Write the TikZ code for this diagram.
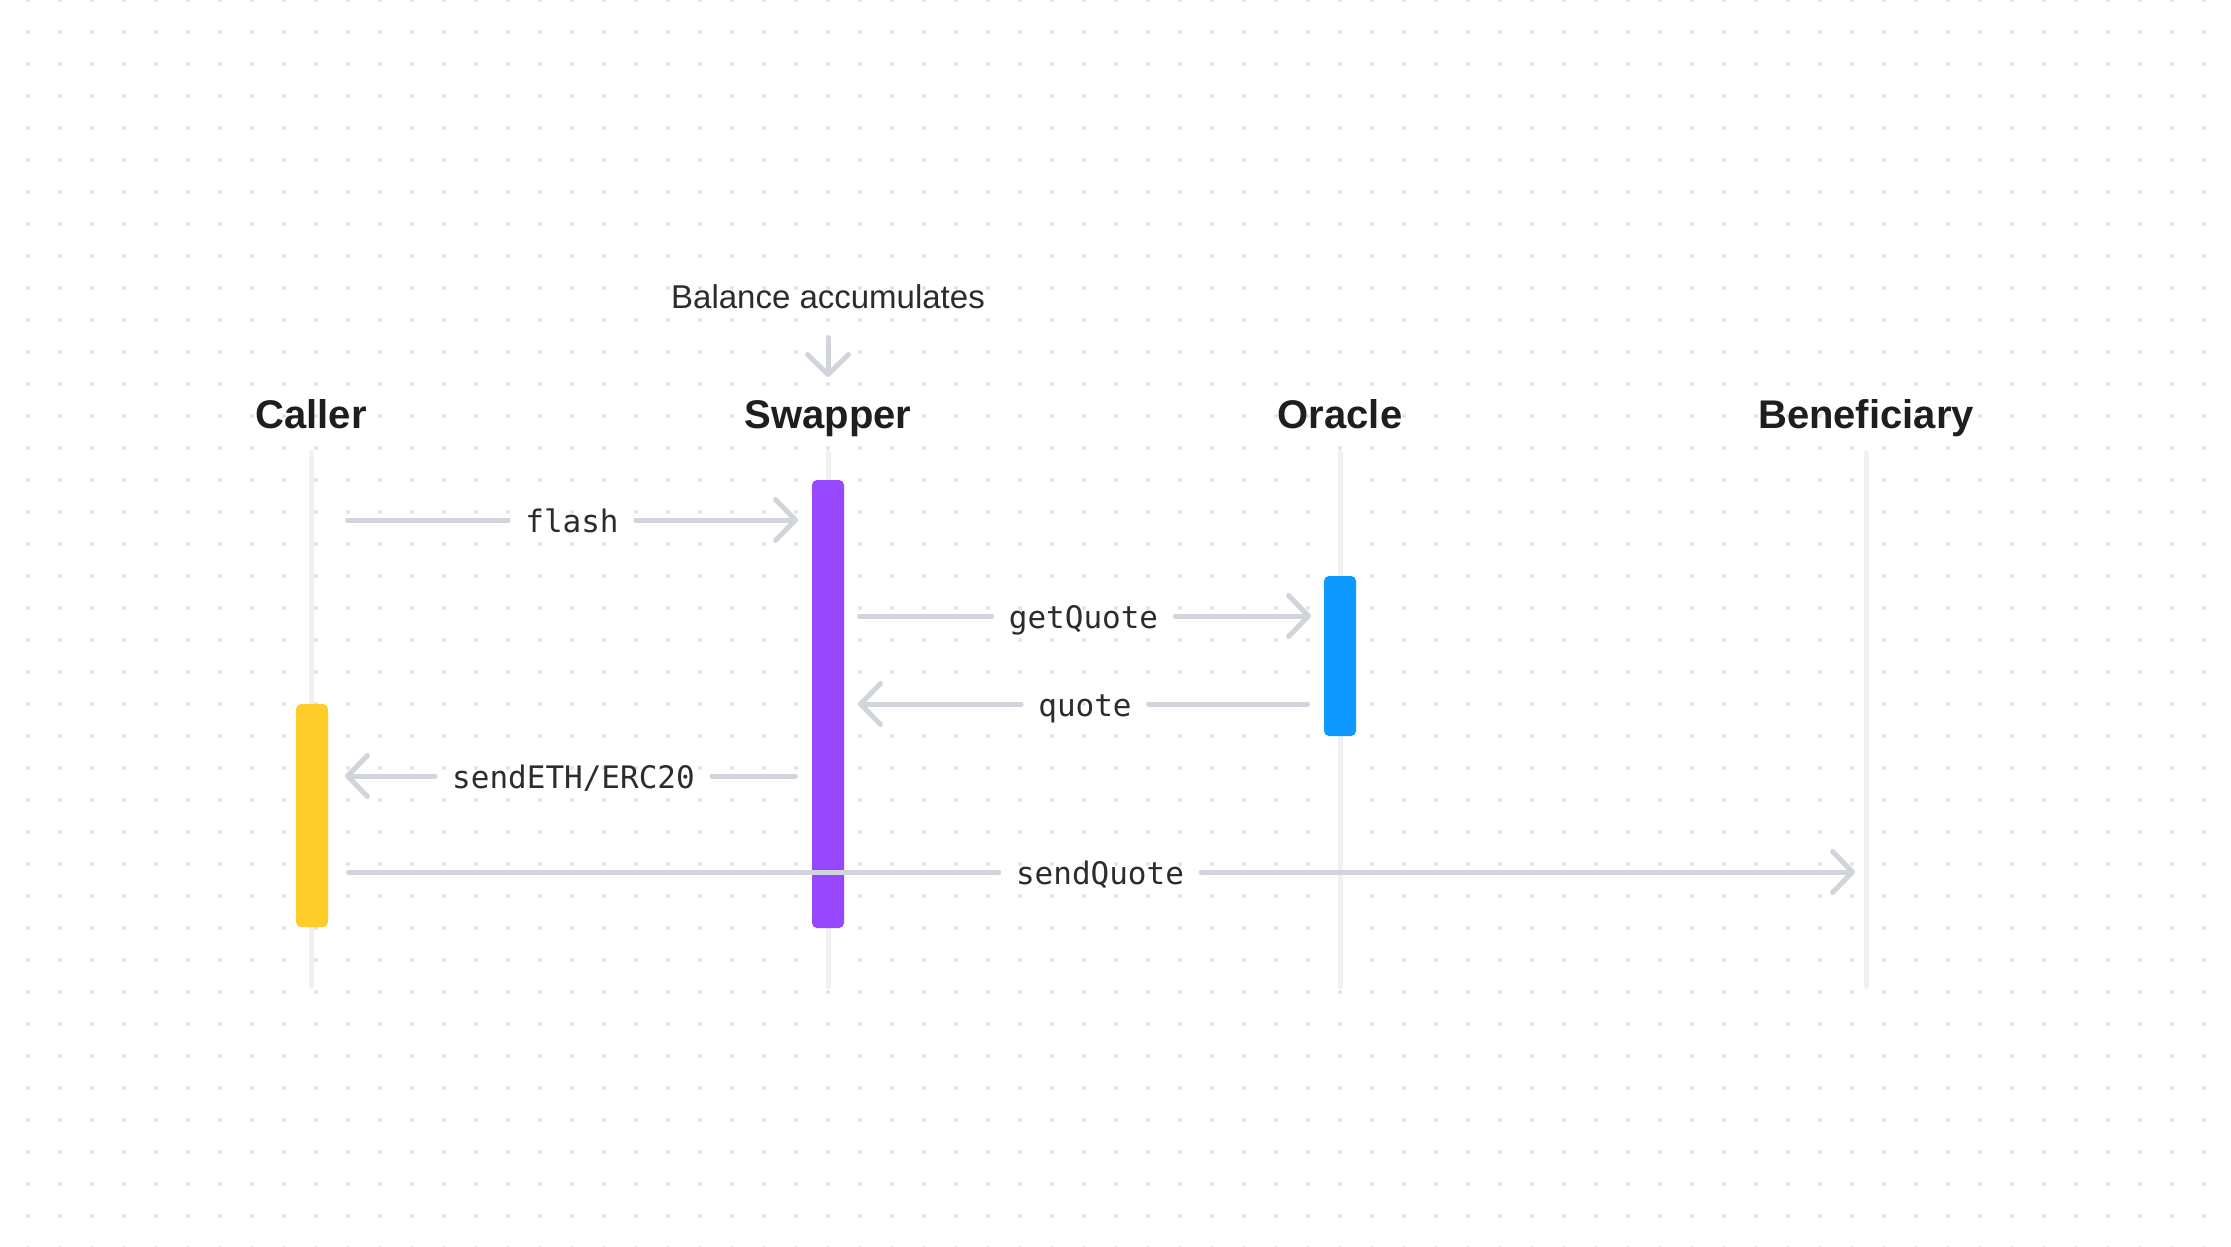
\documentclass[tikz,border=0pt]{standalone}
\usepackage{fontspec}
\setmainfont{Liberation Sans}
\newfontfamily\codefont{DejaVu Sans Mono}
\usetikzlibrary{arrows.meta}
\definecolor{dotgray}{HTML}{E3E3E3}
\definecolor{lifegray}{HTML}{F1F1F1}
\definecolor{linegray}{HTML}{D1D4DB}
\definecolor{inkdark}{HTML}{1E1E1E}
\definecolor{textgray}{HTML}{2C2C2C}
\definecolor{barpurple}{HTML}{9747FF}
\definecolor{barblue}{HTML}{0D99FF}
\definecolor{baryellow}{HTML}{FFCD29}
\begin{document}
\begin{tikzpicture}[x=1pt,y=-1pt,
  title/.style={font=\fontsize{40}{48}\selectfont\bfseries, text=inkdark, inner sep=0pt, anchor=base},
  note/.style={font=\fontsize{33}{40}\selectfont, text=textgray, inner sep=0pt, anchor=base},
  msglabel/.style={font=\codefont\fontsize{31}{36}\selectfont, text=textgray, inner ysep=0pt, inner xsep=17pt, anchor=base},
  lifeline/.style={draw=lifegray, line width=5pt, line cap=round},
  actbar/.style={rounded corners=5pt, draw=none, inner sep=0pt, minimum width=32pt},
  msgline/.style={draw=linegray, line width=5pt, line cap=round},
  msgarrow/.style={msgline, -{Straight Barb[length=20pt, width=41pt, round]}},
]
% background and dot grid
\fill[white] (0,0) rectangle (2231,1247);
\useasboundingbox (0,0) rectangle (2231,1247);
\foreach \i in {0,...,68} {
  \foreach \j in {0,...,39} {
    \fill[dotgray] ({28+32*\i},{32*\j}) circle (2pt);
  }
}
% lifelines
\coordinate (callerTop) at (311,452.5);   \coordinate (callerBot) at (311,986.5);
\coordinate (swapTop) at (828,452.5);     \coordinate (swapBot) at (828,986.5);
\coordinate (oracleTop) at (1340,452.5);  \coordinate (oracleBot) at (1340,986.5);
\coordinate (benefTop) at (1866,452.5);   \coordinate (benefBot) at (1866,986.5);
\draw[lifeline] (callerTop) -- (callerBot);
\draw[lifeline] (swapTop) -- (swapBot);
\draw[lifeline] (oracleTop) -- (oracleBot);
\draw[lifeline] (benefTop) -- (benefBot);
% activation bars
\node[actbar, fill=baryellow, minimum height=223pt] (callerBar) at (312,815.5) {};
\node[actbar, fill=barpurple, minimum height=448pt] (swapBar) at (828,704) {};
\node[actbar, fill=barblue, minimum height=160pt] (oracleBar) at (1340,656) {};
% titles
\node[title] (caller) at (311,428) {Caller};
\node[title] (swapper) at (828,428) {Swapper};
\node[title] (oracle) at (1340,428) {Oracle};
\node[title] (benef) at (1866,428) {Beneficiary};
% note
\node[note] (balance) at (828,308) {Balance accumulates};
\coordinate (balS) at (828,337.5);
\coordinate (balE) at (828,377);
\draw[msgarrow] (balS) -- (balE);
% flash
\coordinate (flashS) at (347.5,520);
\coordinate (flashE) at (798,520);
\node[msglabel] (flashL) at (572,532) {flash};
\draw[msgline] (flashS) -- (flashL.west |- flashS);
\draw[msgarrow] (flashL.east |- flashS) -- (flashE);
% getQuote
\coordinate (gqS) at (859.5,616);
\coordinate (gqE) at (1311,616);
\node[msglabel] (gqL) at (1083.5,628) {getQuote};
\draw[msgline] (gqS) -- (gqL.west |- gqS);
\draw[msgarrow] (gqL.east |- gqS) -- (gqE);
% quote
\coordinate (qS) at (1307.5,704);
\coordinate (qE) at (858,704);
\node[msglabel] (qL) at (1085,716) {quote};
\draw[msgline] (qS) -- (qL.east |- qS);
\draw[msgarrow] (qL.west |- qS) -- (qE);
% sendETH/ERC20
\coordinate (seS) at (795.5,776);
\coordinate (seE) at (345,776);
\node[msglabel] (seL) at (573.5,788) {sendETH/ERC20};
\draw[msgline] (seS) -- (seL.east |- seS);
\draw[msgarrow] (seL.west |- seS) -- (seE);
% sendQuote
\coordinate (sqS) at (348.5,872);
\coordinate (sqE) at (1855,872);
\node[msglabel] (sqL) at (1100,884) {sendQuote};
\draw[msgline] (sqS) -- (sqL.west |- sqS);
\draw[msgarrow] (sqL.east |- sqS) -- (sqE);
\end{tikzpicture}
\end{document}
